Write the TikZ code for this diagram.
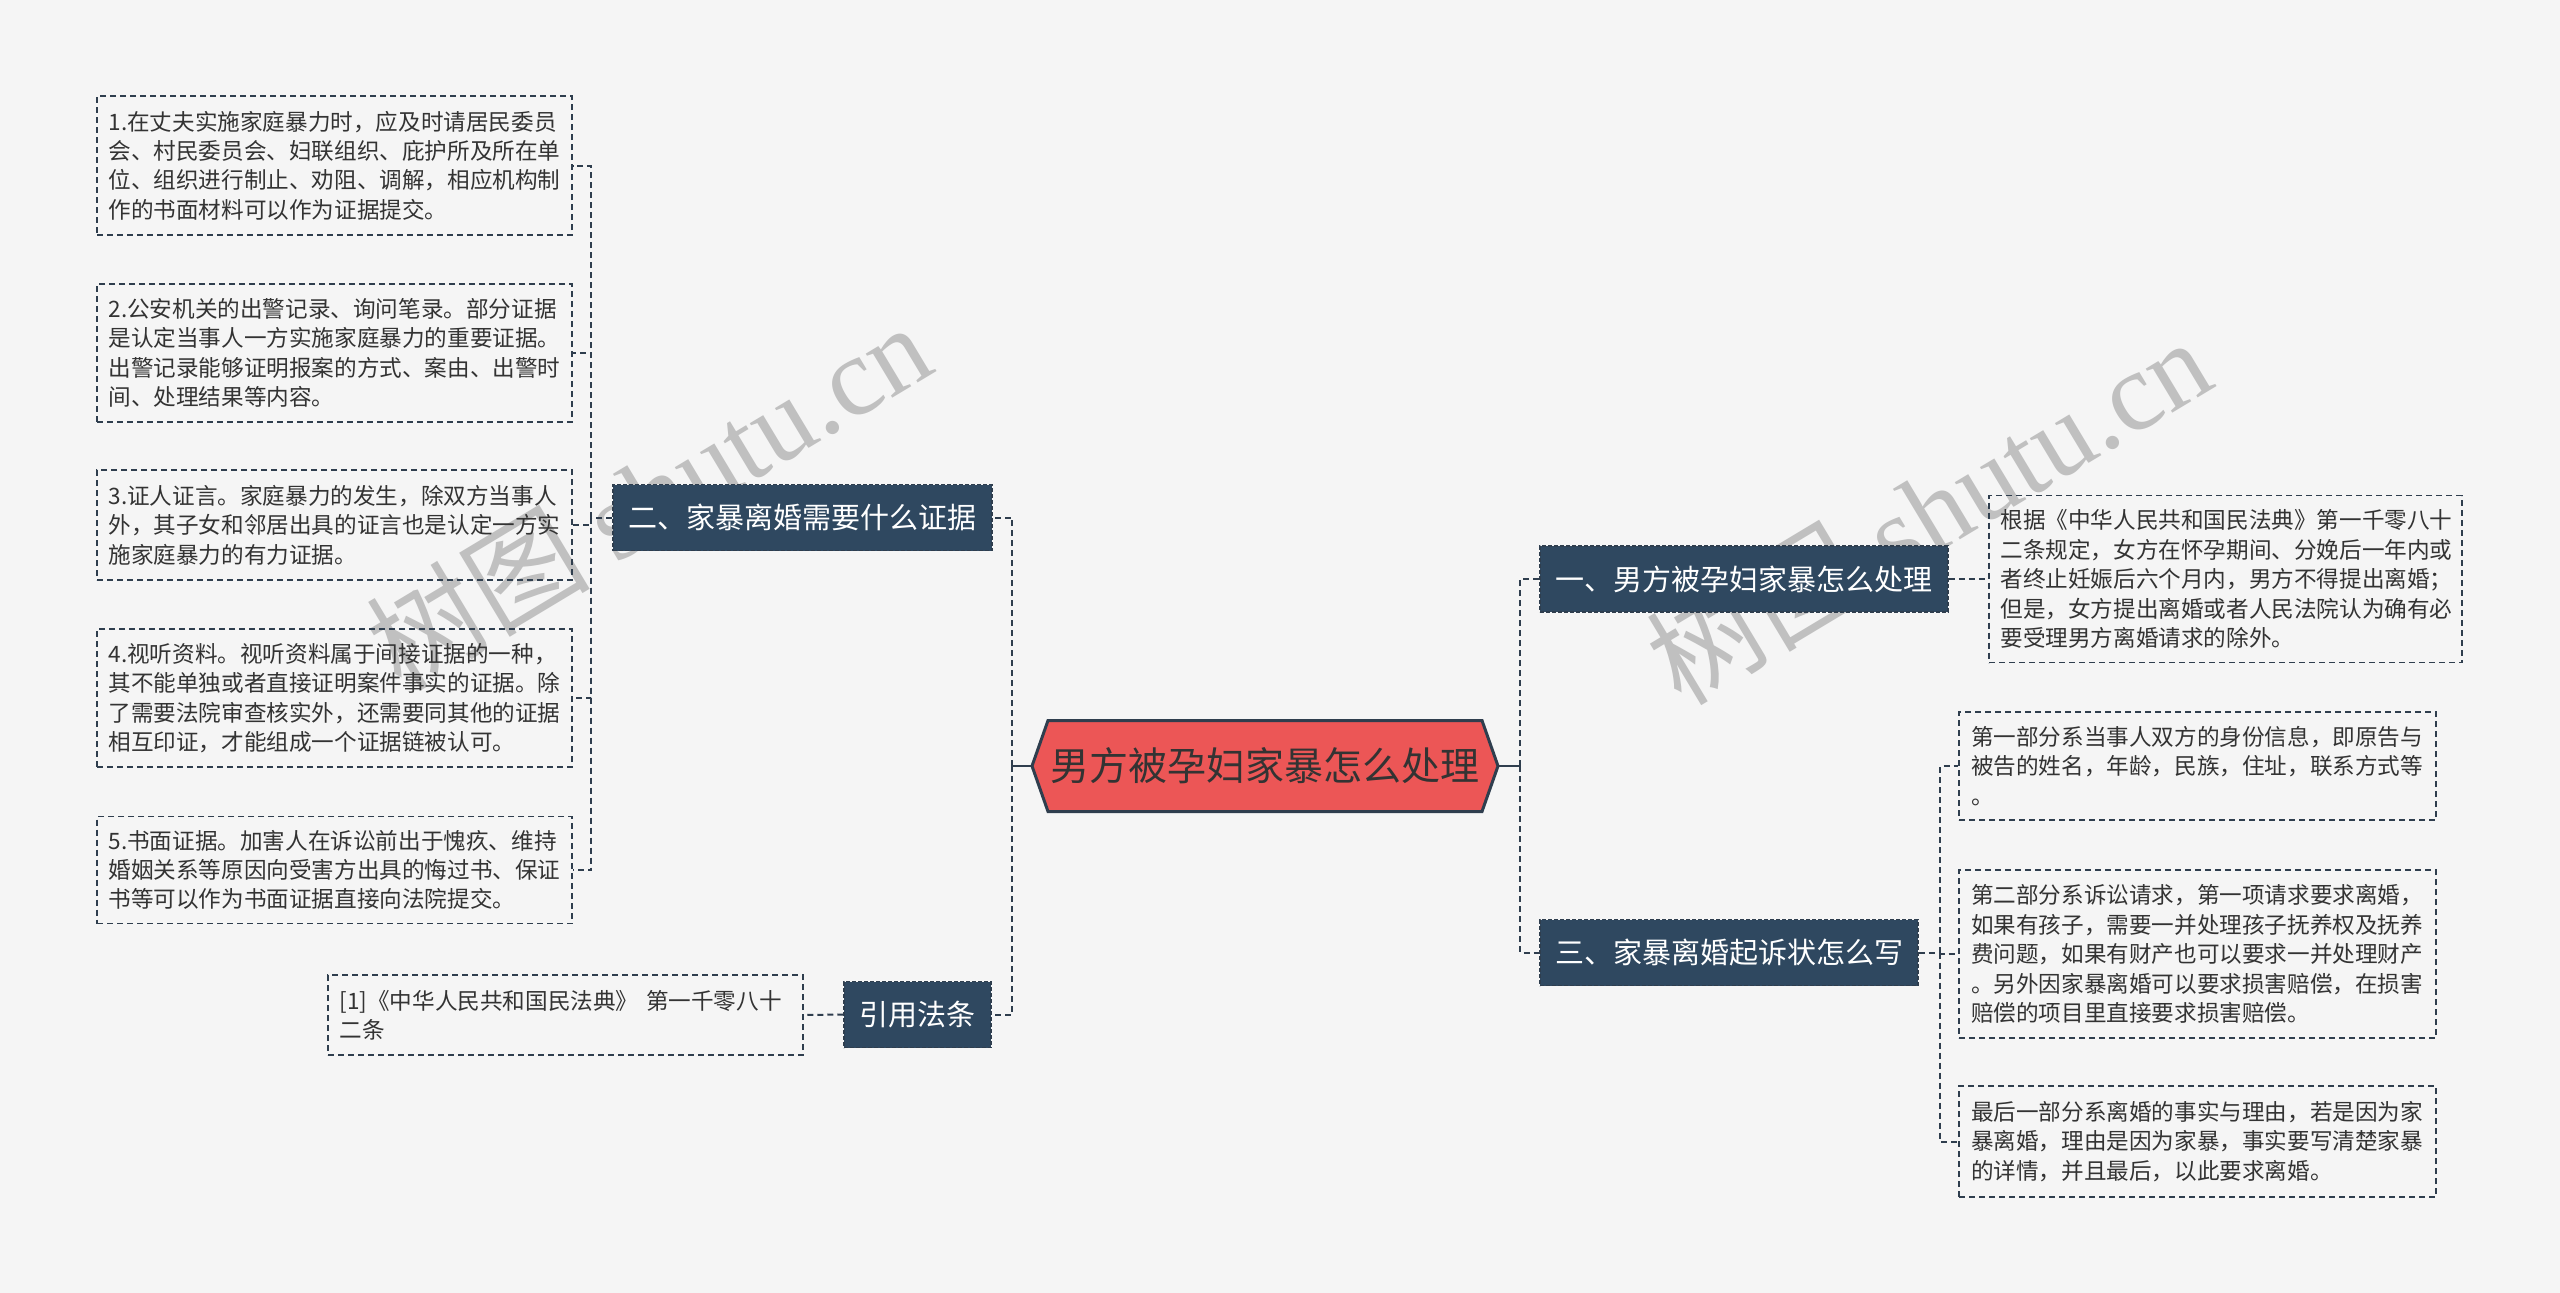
\documentclass[tikz,border=0pt]{standalone}
\usepackage{fontspec}
\setmainfont{Noto Sans CJK SC}
\newfontfamily\wmserif{Liberation Serif}
\definecolor{bgc}{HTML}{F5F5F5}
\definecolor{nodec}{HTML}{2F4860}
\definecolor{linec}{HTML}{2F3E4E}
\definecolor{rootc}{HTML}{EC5656}
\definecolor{txtc}{HTML}{333333}
\definecolor{wmc}{HTML}{C0C0C0}
\begin{document}
\begin{tikzpicture}[x=1pt,y=-1pt,
  conn/.style={draw=linec,line width=2pt,dash pattern=on 6pt off 4pt},
  solidconn/.style={draw=linec,line width=2.5pt},
  leaf/.style={draw=linec,line width=1.8pt,dash pattern=on 6pt off 4pt,text=txtc,
    font=\fontsize{22.6}{29.4}\selectfont,align=left,inner sep=0pt,
    text width=452,minimum width=475},
  topic/.style={fill=nodec,draw=linec,line width=1.5pt,dash pattern=on 4pt off 2pt,
    text=white,font=\fontsize{29}{34}\selectfont,inner sep=0pt,minimum height=66},
  wmark/.style={rotate=31,text=wmc,font=\fontsize{112}{118}\selectfont,inner sep=0pt}
]
\useasboundingbox (0,0) rectangle (2560,1293);
\fill[bgc] (0,0) rectangle (2560,1293);

% watermarks
\node[wmark] (wm1) at (648,495) {树图 {\wmserif shutu.cn}};
\node[wmark] (wm2) at (1928,510) {树图 {\wmserif shutu.cn}};

% root hexagon
\filldraw[fill=rootc,draw=linec,line width=3pt,line join=miter]
  (1032,766) -- (1048,720.5) -- (1482,720.5) -- (1498,766) -- (1482,811.5) -- (1048,811.5) -- cycle;
\node[minimum width=466,minimum height=91,inner sep=0pt,text=txtc,
  font=\fontsize{39}{44}\selectfont] (root) at (1265,766) {男方被孕妇家暴怎么处理};

% left branch
\node[topic,minimum width=379] (n2) at (802.5,517.5) {二、家暴离婚需要什么证据};
\node[topic,minimum width=147] (law) at (917.5,1014.5) {引用法条};

\node[leaf,minimum height=139] (b1) at (334.5,165.5) {1.在丈夫实施家庭暴力时，应及时请居民委员\\会、村民委员会、妇联组织、庇护所及所在单\\位、组织进行制止、劝阻、调解，相应机构制\\作的书面材料可以作为证据提交。};
\node[leaf,minimum height=138] (b2) at (334.5,353) {2.公安机关的出警记录、询问笔录。部分证据\\是认定当事人一方实施家庭暴力的重要证据。\\出警记录能够证明报案的方式、案由、出警时\\间、处理结果等内容。};
\node[leaf,minimum height=110] (b3) at (334.5,525) {3.证人证言。家庭暴力的发生，除双方当事人\\外，其子女和邻居出具的证言也是认定一方实\\施家庭暴力的有力证据。};
\node[leaf,minimum height=138] (b4) at (334.5,698) {4.视听资料。视听资料属于间接证据的一种，\\其不能单独或者直接证明案件事实的证据。除\\了需要法院审查核实外，还需要同其他的证据\\相互印证，才能组成一个证据链被认可。};
\node[leaf,minimum height=107] (b5) at (334.5,870) {5.书面证据。加害人在诉讼前出于愧疚、维持\\婚姻关系等原因向受害方出具的悔过书、保证\\书等可以作为书面证据直接向法院提交。};
\node[leaf,minimum height=80] (cite) at (565.5,1015) {[1]《中华人民共和国民法典》 第一千零八十\\二条};

% right branch
\node[topic,minimum width=408] (n1) at (1744,579) {一、男方被孕妇家暴怎么处理};
\node[topic,minimum width=378] (n3) at (1729,952.5) {三、家暴离婚起诉状怎么写};

\node[leaf,minimum width=473,text width=450,minimum height=167] (t1) at (2225.5,579) {根据《中华人民共和国民法典》第一千零八十\\二条规定，女方在怀孕期间、分娩后一年内或\\者终止妊娠后六个月内，男方不得提出离婚；\\但是，女方提出离婚或者人民法院认为确有必\\要受理男方离婚请求的除外。};
\node[leaf,minimum width=477,text width=453,minimum height=108] (r1) at (2197.5,766) {第一部分系当事人双方的身份信息，即原告与\\被告的姓名，年龄，民族，住址，联系方式等\\。};
\node[leaf,minimum width=477,text width=453,minimum height=168] (r2) at (2197.5,954) {第二部分系诉讼请求，第一项请求要求离婚，\\如果有孩子，需要一并处理孩子抚养权及抚养\\费问题，如果有财产也可以要求一并处理财产\\。另外因家暴离婚可以要求损害赔偿，在损害\\赔偿的项目里直接要求损害赔偿。};
\node[leaf,minimum width=477,text width=453,minimum height=111] (r3) at (2197.5,1141.5) {最后一部分系离婚的事实与理由，若是因为家\\暴离婚，理由是因为家暴，事实要写清楚家暴\\的详情，并且最后，以此要求离婚。};

% junction points
\coordinate (lj) at (591,517.5);
\coordinate (rl) at (1012,766);
\coordinate (rr) at (1520,766);
\coordinate (r3j) at (1940,952.5);

% connectors
\draw[solidconn] (root.west) -- (rl);
\draw[solidconn] (root.east) -- (rr);
\draw[conn] (rl) |- (n2.east);
\draw[conn] (rl) |- (law.east);
\draw[conn] (law.west) -- (cite.east);
\draw[conn] (n2.west) -- (lj);
\draw[conn] (lj) |- (b1.east);
\draw[conn] (lj) |- (b2.east);
\draw[conn] (lj) |- (b3.east);
\draw[conn] (lj) |- (b4.east);
\draw[conn] (lj) |- (b5.east);
\draw[conn] (rr) |- (n1.west);
\draw[conn] (rr) |- (n3.west);
\draw[conn] (n1.east) -- (t1.west);
\draw[conn] (n3.east) -- (r3j);
\draw[conn] (r3j) |- (r1.west);
\draw[conn] (r3j) |- (r2.west);
\draw[conn] (r3j) |- (r3.west);
\end{tikzpicture}
\end{document}
